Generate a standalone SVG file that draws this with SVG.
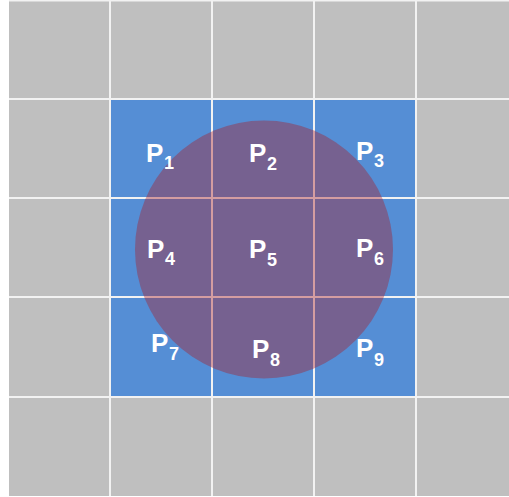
<svg xmlns="http://www.w3.org/2000/svg" width="509" height="497" viewBox="0 0 509 497">
  <style>
    .lbl { font-family: "Liberation Sans", Arial, sans-serif; font-weight: bold; fill: #ffffff; }
    .p { font-size: 26px; }
    .s { font-size: 18px; }
    .grid line { stroke: #f2f2f2; stroke-width: 2; }
  </style>
  <rect x="0" y="0" width="509" height="497" fill="#ffffff"/>
  <rect x="9" y="0" width="500" height="496" fill="#bfbfbf"/>
  <rect x="110" y="99" width="306" height="298" fill="#558ed5"/>
  <g class="grid" id="grid">
    <line x1="9" y1="0.5" x2="509" y2="0.5"/>
    <line x1="9" y1="99" x2="509" y2="99"/>
    <line x1="9" y1="198" x2="509" y2="198"/>
    <line x1="9" y1="297" x2="509" y2="297"/>
    <line x1="9" y1="397" x2="509" y2="397"/>
    <line x1="110" y1="0" x2="110" y2="496"/>
    <line x1="212" y1="0" x2="212" y2="496"/>
    <line x1="314" y1="0" x2="314" y2="496"/>
    <line x1="416" y1="0" x2="416" y2="496"/>
  </g>
  <g id="circle">
    <circle cx="264" cy="249.5" r="129" fill="#a81e28" fill-opacity="0.4"/>
  </g>
  <g id="connectors"/>
  <g id="P1"><text class="lbl p" x="146" y="162">P</text><text class="lbl s" x="164" y="169">1</text></g>
  <g id="P2"><text class="lbl p" x="249" y="162">P</text><text class="lbl s" x="267" y="170">2</text></g>
  <g id="P3"><text class="lbl p" x="356" y="160">P</text><text class="lbl s" x="374" y="167">3</text></g>
  <g id="P4"><text class="lbl p" x="147" y="258">P</text><text class="lbl s" x="165" y="265">4</text></g>
  <g id="P5"><text class="lbl p" x="249" y="258">P</text><text class="lbl s" x="267" y="266">5</text></g>
  <g id="P6"><text class="lbl p" x="356" y="257">P</text><text class="lbl s" x="374" y="265">6</text></g>
  <g id="P7"><text class="lbl p" x="151" y="352">P</text><text class="lbl s" x="169" y="360">7</text></g>
  <g id="P8"><text class="lbl p" x="252" y="358">P</text><text class="lbl s" x="270" y="366">8</text></g>
  <g id="P9"><text class="lbl p" x="356" y="357">P</text><text class="lbl s" x="374" y="366">9</text></g>
</svg>
